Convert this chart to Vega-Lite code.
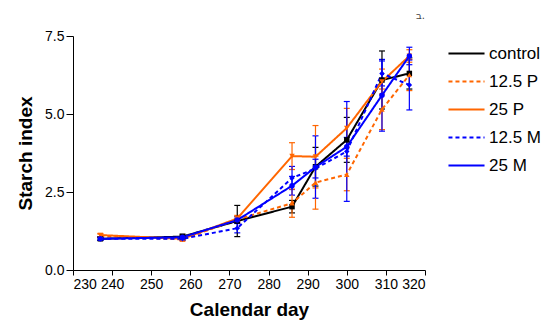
{
  "$schema": "https://vega.github.io/schema/vega-lite/v6.json",
  "width": 352,
  "height": 234,
  "autosize": {"type": "none"},
  "padding": {"left": 73, "top": 36, "right": 125, "bottom": 57},
  "background": "white",
  "title": {"text": "ב.", "anchor": "end", "frame": "group", "fontSize": 10, "fontWeight": "normal", "color": "#444", "offset": 8, "font": "DejaVu Sans"},
  "data": {"values": [
    {"group": "control", "day": 237, "value": 1.0, "err": 0.05},
    {"group": "control", "day": 258, "value": 1.07, "err": 0.08},
    {"group": "control", "day": 272, "value": 1.57, "err": 0.5},
    {"group": "control", "day": 286, "value": 2.03, "err": 0.2},
    {"group": "control", "day": 292, "value": 3.31, "err": 0.62},
    {"group": "control", "day": 300, "value": 4.17, "err": 0.72},
    {"group": "control", "day": 309, "value": 6.09, "err": 0.93},
    {"group": "control", "day": 316, "value": 6.3, "err": 0.5},
    {"group": "12.5 P", "day": 237, "value": 1.1, "err": 0.05},
    {"group": "12.5 P", "day": 258, "value": 0.98, "err": 0.05},
    {"group": "12.5 P", "day": 272, "value": 1.62, "err": 0.1},
    {"group": "12.5 P", "day": 286, "value": 2.14, "err": 0.45},
    {"group": "12.5 P", "day": 292, "value": 2.8, "err": 0.85},
    {"group": "12.5 P", "day": 300, "value": 3.06, "err": 0.52},
    {"group": "12.5 P", "day": 309, "value": 5.15, "err": 0.65},
    {"group": "12.5 P", "day": 316, "value": 6.25, "err": 0.5},
    {"group": "25 P", "day": 237, "value": 1.12, "err": 0.05},
    {"group": "25 P", "day": 258, "value": 1.0, "err": 0.05},
    {"group": "25 P", "day": 272, "value": 1.65, "err": 0.1},
    {"group": "25 P", "day": 286, "value": 3.65, "err": 0.43},
    {"group": "25 P", "day": 292, "value": 3.63, "err": 1.0},
    {"group": "25 P", "day": 300, "value": 4.55, "err": 0.63},
    {"group": "25 P", "day": 309, "value": 6.04, "err": 0.4},
    {"group": "25 P", "day": 316, "value": 6.86, "err": 0.2},
    {"group": "12.5 M", "day": 237, "value": 1.0, "err": 0.05},
    {"group": "12.5 M", "day": 258, "value": 1.0, "err": 0.05},
    {"group": "12.5 M", "day": 272, "value": 1.34, "err": 0.15},
    {"group": "12.5 M", "day": 286, "value": 2.95, "err": 0.37},
    {"group": "12.5 M", "day": 292, "value": 3.25, "err": 0.3},
    {"group": "12.5 M", "day": 300, "value": 3.8, "err": 1.6},
    {"group": "12.5 M", "day": 309, "value": 6.3, "err": 0.4},
    {"group": "12.5 M", "day": 316, "value": 5.93, "err": 0.8},
    {"group": "25 M", "day": 237, "value": 1.0, "err": 0.05},
    {"group": "25 M", "day": 258, "value": 1.05, "err": 0.05},
    {"group": "25 M", "day": 272, "value": 1.6, "err": 0.1},
    {"group": "25 M", "day": 286, "value": 2.7, "err": 0.3},
    {"group": "25 M", "day": 292, "value": 3.3, "err": 1.0},
    {"group": "25 M", "day": 300, "value": 3.95, "err": 0.3},
    {"group": "25 M", "day": 309, "value": 5.6, "err": 1.15},
    {"group": "25 M", "day": 316, "value": 6.86, "err": 0.28}
  ]},
  "encoding": {
    "x": {"field": "day", "type": "quantitative", "scale": {"domain": [230, 320], "nice": false, "zero": false},
      "axis": {"values": [230, 240, 250, 260, 270, 280, 290, 300, 310, 320], "title": "Calendar day", "titlePadding": 9, "tickSize": 5}},
    "y": {"field": "value", "type": "quantitative", "scale": {"domain": [0, 7.5], "nice": false},
      "axis": {"values": [0, 2.5, 5, 7.5], "format": ".1f", "title": "Starch index", "titlePadding": 9, "tickSize": 7}},
    "color": {"field": "group", "type": "nominal",
      "scale": {"domain": ["control", "12.5 P", "25 P", "12.5 M", "25 M"], "range": ["#000000", "#ff6600", "#ff6600", "#0000ff", "#0000ff"]}}
  },
  "layer": [
    {
      "mark": {"type": "errorbar", "ticks": {"size": 6}, "thickness": 1.2, "opacity": 1},
      "encoding": {
        "yError": {"field": "err"}
      }
    },
    {
      "mark": {"type": "line", "strokeWidth": 2},
      "encoding": {
        "strokeDash": {"field": "group", "type": "nominal",
          "scale": {"domain": ["control", "12.5 P", "25 P", "12.5 M", "25 M"], "range": [[1, 0], [4, 3], [1, 0], [4, 3], [1, 0]]}}
      }
    },
    {
      "mark": {"type": "point", "filled": true, "opacity": 1, "size": 30},
      "encoding": {
        "shape": {"field": "group", "type": "nominal",
          "scale": {"domain": ["control", "12.5 P", "25 P", "12.5 M", "25 M"], "range": ["square", "triangle-up", "triangle-down", "diamond", "circle"]},
          "legend": null}
      }
    }
  ],
  "resolve": {"scale": {"shape": "independent"}, "legend": {"shape": "independent"}},
  "config": {
    "view": {"stroke": null},
    "axis": {"grid": false, "domainColor": "black", "tickColor": "black", "labelColor": "black", "titleColor": "black",
      "labelFont": "Liberation Sans", "titleFont": "Liberation Sans", "labelFontSize": 14, "titleFontSize": 19, "titleFontWeight": "bold", "domainWidth": 1, "labelPadding": 2},
    "legend": {"title": null, "orient": "none", "legendX": 374, "legendY": -2, "symbolType": "stroke", "symbolSize": 1300, "symbolStrokeWidth": 2, "labelFontSize": 17, "labelFont": "Liberation Sans", "labelColor": "black", "rowPadding": -10, "labelOffset": 3}
  }
}
